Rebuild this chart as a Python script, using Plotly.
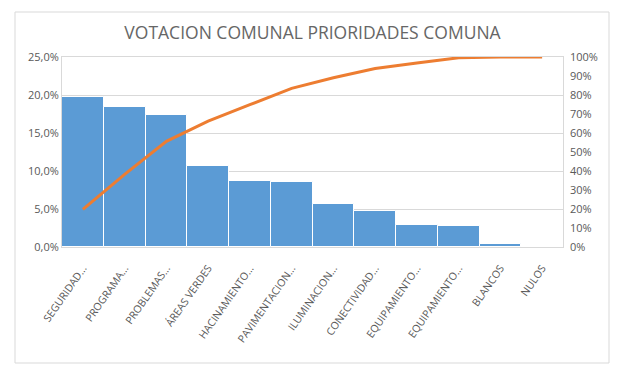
import plotly.graph_objects as go

categories = ["SEGURIDAD...", "PROGRAMA...", "PROBLEMAS...", "ÁREAS VERDES",
              "HACINAMIENTO...", "PAVIMENTACION...", "ILUMINACION...",
              "CONECTIVIDAD...", "EQUIPAMIENTO...", "EQUIPAMIENTO...",
              "BLANCOS", "NULOS"]
share = [19.8, 18.4, 17.4, 10.6, 8.7, 8.6, 5.6, 4.8, 2.9, 2.8, 0.4, 0.0]
cumulative = []
acc = 0.0
for v in share:
    acc += v
    cumulative.append(acc)

left_ticks = [0, 5, 10, 15, 20, 25]
left_labels = ["0,0%", "5,0%", "10,0%", "15,0%", "20,0%", "25,0%"]
right_ticks = [0, 10, 20, 30, 40, 50, 60, 70, 80, 90, 100]
right_labels = ["0%", "10%", "20%", "30%", "40%", "50%", "60%", "70%", "80%", "90%", "100%"]

x = list(range(len(categories)))
font = "Open Sans"
grey = "#595959"

# page body has an 8px margin; plot area target on screen: x 62-563, y 57-247
L, T, B = 54, 49, 239
W = 501
H = 190

fig = go.Figure()
fig.add_trace(go.Bar(x=x, y=share, marker=dict(color="#5B9BD5", line=dict(color="white", width=1)),
                     yaxis="y", showlegend=False))
fig.add_trace(go.Scatter(x=x, y=cumulative, mode="lines", line=dict(color="#ED7D31", width=3),
                         yaxis="y2", showlegend=False))

fig.update_layout(
    width=627, height=378,
    margin=dict(l=L, r=627 - L - W, t=T, b=378 - B),
    paper_bgcolor="white", plot_bgcolor="white",
    bargap=0,
    title=dict(text="VOTACION COMUNAL PRIORIDADES COMUNA", x=(L + W / 2) / 627, xanchor="center",
               y=1 - 25 / 378, yanchor="middle",
               font=dict(family=font, size=17.5, color="#666666")),
    xaxis=dict(tickmode="array", tickvals=x, ticktext=categories, tickangle=-55,
               range=[-0.5, len(categories) - 0.5], automargin=False,
               tickfont=dict(family=font, size=10.5, color=grey), ticklabelstandoff=10,
               showline=True, linecolor="#D9D9D9", mirror=True, ticks="", showgrid=False),
    yaxis=dict(range=[0, 25], tickmode="array", tickvals=left_ticks, ticktext=left_labels,
               tickfont=dict(family=font, size=11, color=grey), automargin=False,
               showgrid=True, gridcolor="#D9D9D9", zeroline=False,
               showline=True, linecolor="#D9D9D9", mirror=True, ticks=""),
    yaxis2=dict(range=[0, 100], overlaying="y", side="right", tickmode="array",
                tickvals=right_ticks, ticktext=right_labels, automargin=False,
                tickfont=dict(family=font, size=11, color=grey), ticklabelstandoff=6,
                showgrid=False, zeroline=False, showline=False, ticks=""),
    shapes=[dict(type="rect", xref="paper", yref="paper",
                 x0=(7 - L) / W, x1=(601 - L) / W,
                 y0=(B - 355) / H, y1=(B - 4) / H,
                 line=dict(color="#D9D9D9", width=1), layer="below")],
)

fig.write_html("out.html")
